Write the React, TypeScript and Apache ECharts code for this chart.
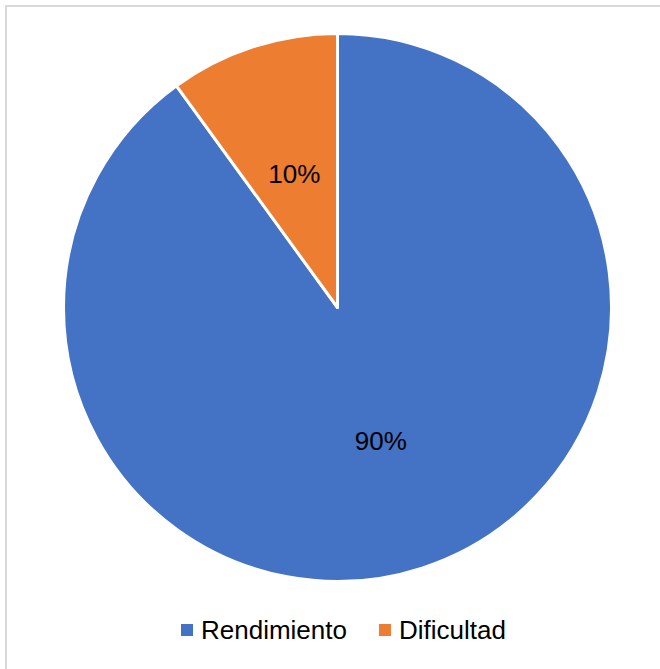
import React, { useEffect, useRef } from "react";
import * as echarts from "echarts";

const categories = ["Rendimiento", "Dificultad"];
const values = [90, 10];
const colors = ["#4472C4", "#ED7D31"];

export default function App() {
  const ref = useRef<HTMLDivElement>(null);
  useEffect(() => {
    document.body.style.margin = "0";
    const chart = echarts.init(ref.current!, null, { renderer: "svg" });
    chart.setOption({
      animation: false,
      backgroundColor: "#ffffff",
      graphic: [
        {
          type: "rect",
          shape: { x: 6, y: 6, width: 700, height: 700 },
          style: { fill: "none", stroke: "#d9d9d9", lineWidth: 2 },
          silent: true,
        },
      ],
      legend: {
        data: categories,
        top: 617,
        left: 179,
        padding: 0,
        itemWidth: 14,
        itemHeight: 14,
        itemGap: 30,
        icon: "rect",
        textStyle: {
          fontFamily: "Liberation Sans",
          fontSize: 26,
          color: "#000",
          padding: [0, 0, 0, 2],
        },
      },
      series: [
        {
          type: "pie",
          center: [337.5, 307.5],
          radius: 274,
          startAngle: 90,
          clockwise: true,
          label: {
            show: true,
            position: "inside",
            formatter: "{d}%",
            fontFamily: "Liberation Sans",
            fontSize: 26,
            color: "#000",
          },
          labelLine: { show: false },
          itemStyle: { borderColor: "#ffffff", borderWidth: 3 },
          emphasis: { disabled: true },
          data: categories.map((c, i) => ({
            name: c,
            value: values[i],
            itemStyle: { color: colors[i] },
          })),
        },
      ],
    });
    return () => chart.dispose();
  }, []);
  return (
    <div
      ref={ref}
      style={{ position: "absolute", left: 0, top: 0, width: 660, height: 669 }}
    />
  );
}
